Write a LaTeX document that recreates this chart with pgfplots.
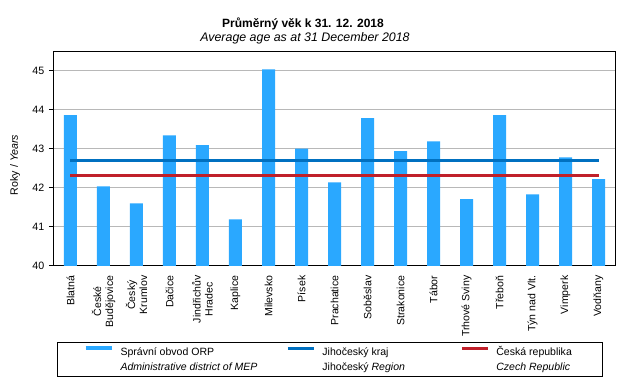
\documentclass[border=0pt]{standalone}
\usepackage{pgfplots}
\pgfplotsset{compat=1.18}
\usepackage{fontspec}
\setmainfont{Liberation Sans}
\definecolor{barblue}{HTML}{2AA8FF}
\definecolor{krajblue}{HTML}{0070C0}
\definecolor{crred}{HTML}{C0202A}
\begin{document}
\begin{tikzpicture}[x=0.75pt,y=0.75pt]
\path[use as bounding box] (0,0) rectangle (643,382);
\node[font=\fontsize{9pt}{11pt}\selectfont\bfseries] at (303,358) {Průměrný věk k 31. 12. 2018};
\node[font=\fontsize{9.3pt}{11pt}\selectfont\itshape] at (305,344) {Average age as at 31 December 2018};
\begin{axis}[
  at={(40.5pt,87pt)}, anchor=south west,
  scale only axis, width=420.75pt, height=161.25pt,
  xmin=-0.5, xmax=16.5, ymin=40, ymax=45.5,
  ytick={40,41,...,45},
  xtick={0,...,16},
  xticklabels={Blatná,{České\\Budějovice},{Český\\Krumlov},Dačice,{Jindřichův\\Hradec},Kaplice,Milevsko,Písek,Prachatice,Soběslav,Strakonice,Tábor,Trhové Sviny,Třeboň,Týn nad Vlt.,Vimperk,Vodňany},
  minor xtick={-0.5,0.5,...,16.5},
  tick align=outside, tick pos=left,
  major tick length=3.75pt, minor tick length=3.75pt,
  xtick style={draw=none},
  minor x tick style={black, line width=0.75pt},
  ytick style={black, line width=0.75pt},
  ymajorgrids, grid style={color=black!28, line width=0.75pt},
  axis line style={black, line width=0.75pt},
  /pgf/number format/assume math mode=true,
  yticklabel style={font=\fontsize{8pt}{9pt}\selectfont},
  xticklabel style={rotate=90, anchor=east, align=center, font=\fontsize{7.9pt}{9pt}\selectfont},
  ylabel={Roky / \textit{Years}},
  ylabel style={at={(axis description cs:-0.0695,0.47)}, anchor=center, font=\fontsize{8pt}{9pt}\selectfont},
  legend columns=3,
  legend style={at={(axis description cs:0.00535,-0.3535)}, anchor=north west,
    draw=black, line width=0.75pt, inner xsep=19.5pt, inner ysep=3pt,
    nodes={inner sep=0pt, text height=6pt, text depth=1.5pt, font=\fontsize{7.9pt}{9pt}\selectfont},
    /tikz/column sep=0pt, /tikz/row sep=3.75pt},
  legend cell align=left,
]
\addplot[ybar, bar width=9.75pt, fill=barblue, draw=none,
  legend image code/.code={\draw[barblue, line width=3pt] (0pt,3pt) -- (19.5pt,3pt);}]
  coordinates {(0,43.86) (1,42.04) (2,41.60) (3,43.34) (4,43.09) (5,41.19) (6,45.03) (7,43.00) (8,42.14) (9,43.78) (10,42.94) (11,43.19) (12,41.71) (13,43.86) (14,41.83) (15,42.78) (16,42.22)};
\addlegendentry{\hspace{5.25pt}\makebox[124.5pt][l]{Správní obvod ORP}}
\addplot[krajblue, line width=2pt,
  legend image code/.code={\draw[krajblue, line width=2.2pt] (0pt,3pt) -- (19.5pt,3pt);}]
  coordinates {(0,42.70) (16,42.70)};
\addlegendentry{\hspace{5.25pt}\makebox[103.5pt][l]{Jihočeský kraj}}
\addplot[crred, line width=2pt,
  legend image code/.code={\draw[crred, line width=2.2pt] (0pt,3pt) -- (19.5pt,3pt);}]
  coordinates {(0,42.31) (16,42.31)};
\addlegendentry{\hspace{5.25pt}\makebox[60pt][l]{Česká republika}}
\addlegendimage{draw=none, fill=none, legend image code/.code={\path[draw=none] (0pt,3pt) -- (19.5pt,3pt);}}
\addlegendentry{\hspace{5.25pt}\makebox[124.5pt][l]{\itshape Administrative district of MEP}}
\addlegendimage{draw=none, fill=none, legend image code/.code={\path[draw=none] (0pt,3pt) -- (19.5pt,3pt);}}
\addlegendentry{\hspace{5.25pt}\makebox[103.5pt][l]{Jihočeský \textit{Region}}}
\addlegendimage{draw=none, fill=none, legend image code/.code={\path[draw=none] (0pt,3pt) -- (19.5pt,3pt);}}
\addlegendentry{\hspace{5.25pt}\makebox[60pt][l]{\itshape Czech Republic}}
\end{axis}
\end{tikzpicture}
\end{document}
